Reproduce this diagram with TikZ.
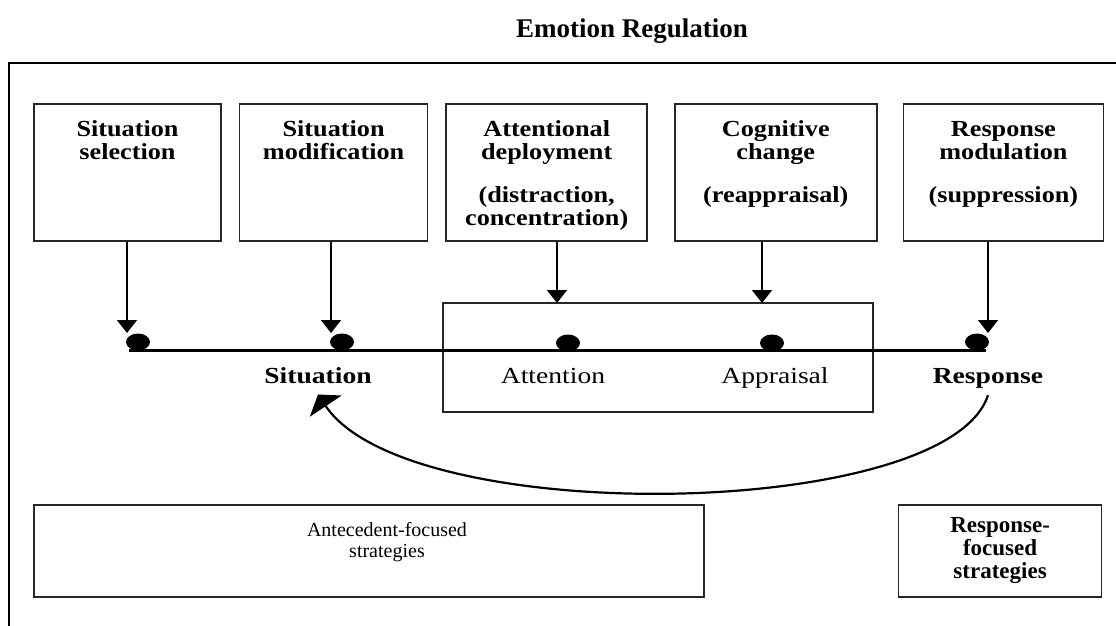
\documentclass[tikz,border=0pt]{standalone}
\usepackage{fontspec}
\setmainfont{Liberation Serif}
\newfontfamily\widefont[FakeStretch=1.2]{Liberation Serif}
\newfontfamily\boxfont[FakeStretch=1.14]{Liberation Serif}
\usetikzlibrary{shapes.geometric, arrows.meta, positioning}

\begin{document}
\begin{tikzpicture}[
    x=1pt, y=-1pt,
    node distance=17pt,
    stratbox/.style={
        rectangle,
        draw=black!85,
        line width=1.6pt,
        inner sep=0pt,
        align=center,
        text height=33pt,
        text depth=104pt,
        font=\boxfont\fontsize{23}{23}\selectfont\bfseries
    },
    bottombox/.style={
        rectangle,
        draw=black!85,
        line width=1.6pt,
        inner sep=0pt,
        minimum height=92pt
    },
    dot/.style={
        ellipse,
        fill=black,
        minimum width=24pt,
        minimum height=17pt,
        inner sep=0pt
    },
    lbl/.style={
        inner sep=2pt,
        anchor=base,
        font=\widefont\fontsize{23}{26}\selectfont
    },
    arr/.style={
        line width=1.8pt,
        -{Triangle[width=20pt,length=13pt]}
    }
]
\useasboundingbox (0,0) rectangle (1116,626);

% Title
\node[font=\fontsize{27}{30}\selectfont\bfseries] (title) at (632,31) {Emotion Regulation};

% Frame
\draw[line width=2.6pt] (9,640) |- (1130,63);

% Top row - strategy boxes
\node[stratbox, text width=187pt, anchor=north] (sel) at (127.5,103) {Situation\\selection};
\node[stratbox, text width=188pt, right=of sel] (mod) {Situation\\modification};
\node[stratbox, text width=201pt, right=of mod] (att) {Attentional\\deployment\\[20pt](distraction,\\concentration)};
\node[stratbox, text width=202pt, right=26pt of att] (cog) {Cognitive\\change\\[20pt](reappraisal)};
\node[stratbox, text width=200pt, right=25pt of cog] (rmod) {Response\\modulation\\[20pt](suppression)};

% Middle - process line
\node[draw=black!85, line width=1.6pt, inner sep=0pt, minimum width=430pt, minimum height=109pt] (proc) at (658,357.5) {};

\node[dot] (d1) at (138,342) {};
\node[dot] (d2) at (342,342) {};
\node[dot] (d3) at (568,343) {};
\node[dot] (d4) at (772,343) {};
\node[dot] (d5) at (977,342) {};
\draw[line width=2.8pt] (d1.south west |- d1.south) -- (d5.south east |- d5.south);

\coordinate (t1) at (127,333);
\coordinate (t2) at (331,333);
\coordinate (t3) at (557,303);
\coordinate (t4) at (762,303);
\coordinate (t5) at (988,333);

\draw[arr] (sel.south -| t1) -- (t1);
\draw[arr] (mod.south -| t2) -- (t2);
\draw[arr] (att.south -| t3) -- (t3);
\draw[arr] (cog.south -| t4) -- (t4);
\draw[arr] (rmod.south -| t5) -- (t5);

\node[lbl, font=\widefont\fontsize{23}{26}\selectfont\bfseries] (sit) at (318,383) {Situation};
\node[lbl] (atn) at (553,383) {Attention};
\node[lbl] (app) at (775,383) {Appraisal};
\node[lbl, font=\widefont\fontsize{23}{26}\selectfont\bfseries] (resp) at (988,383) {Response};

% Feedback
\draw[line width=2.2pt, -{Triangle[width=38pt,length=14pt]}]
    ([yshift=-5pt]resp.south) .. controls +(-40,125) and +(90,135) .. ([yshift=-9pt]sit.south);

% Bottom - strategy groups
\node[bottombox, minimum width=670pt] (ante) at (369,551) {};
\node[font=\fontsize{20}{21}\selectfont, align=center, anchor=north] (antetxt) at (387,519) {Antecedent-focused\\strategies};
\node[bottombox, minimum width=203pt, right=193pt of ante, align=center,
      font=\fontsize{23}{23}\selectfont\bfseries] (resfoc) {Response-\\focused\\strategies};

\end{tikzpicture}
\end{document}
